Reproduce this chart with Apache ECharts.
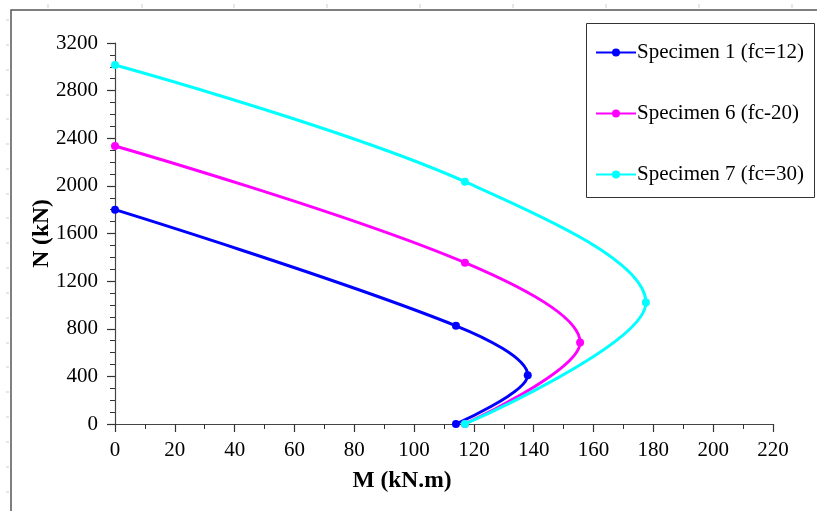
<!DOCTYPE html>
<html>
<head>
<meta charset="utf-8">
<script src="https://cdn.jsdelivr.net/npm/echarts@6/dist/echarts.min.js"></script>
<style>
html,body{margin:0;padding:0;background:#fff;}
#c{width:817px;height:511px;}
</style>
</head>
<body>
<div id="c"></div>
<script>
// Data (M in kN.m, N in kN)
const seriesNames = ['Specimen 1 (fc=12)', 'Specimen 6 (fc-20)', 'Specimen 7 (fc=30)'];
const spec1M = [0, 114, 138, 114];
const spec1N = [1800, 825, 410, 0];
const spec6M = [0, 117, 155.5, 117];
const spec6N = [2335, 1355, 685, 0];
const spec7M = [0, 117, 177.5, 117];
const spec7N = [3015, 2035, 1020, 0];
const xTicks = [0, 220, 20];
const yTicks = [0, 3200, 400];
const colors = ['#0000FF', '#FF00FF', '#00FFFF'];

const font = 'Liberation Serif';
function pairs(m, n) { return m.map((v, i) => [v, n[i]]); }
const allData = [pairs(spec1M, spec1N), pairs(spec6M, spec6N), pairs(spec7M, spec7N)];

const faint = [];
[20,45,70,95,119,144,169,194,218,243,268,293,318,343,367,392,417,442,467,492].forEach(y => {
  faint.push({type:'line', shape:{x1:6,y1:y,x2:9,y2:y}, style:{stroke:'#cfcfcf', lineWidth:1}, silent:true});
});
[48,142,234,327,420,513,606,699,792].forEach(x => {
  faint.push({type:'line', shape:{x1:x,y1:4,x2:x,y2:8}, style:{stroke:'#cfcfcf', lineWidth:1}, silent:true});
});

const chart = echarts.init(document.getElementById('c'), null, {renderer:'canvas'});
chart.setOption({
  backgroundColor: '#ffffff',
  animation: false,
  color: colors,
  textStyle: { fontFamily: font },
  grid: { left: 115, top: 43, right: 44, bottom: 87, containLabel: false },
  graphic: faint.concat([
    { type:'rect', shape:{x:11, y:10, width:900, height:600}, style:{fill:null, stroke:'#555', lineWidth:1.5}, silent:true, z:-1 },
    { type:'rect', shape:{x:586.5, y:23.5, width:228, height:174}, style:{fill:'#fff', stroke:'#333', lineWidth:1}, silent:true, z:1 }
  ]),
  legend: {
    orient: 'vertical',
    left: 595,
    top: 42,
    padding: 0,
    itemGap: 40,
    itemWidth: 40,
    itemHeight: 10,
    z: 5,
    data: seriesNames,
    textStyle: { fontFamily: font, fontSize: 21, color: '#000', lineHeight: 20, padding: [0,0,0,-4] }
  },
  xAxis: {
    type: 'value',
    min: xTicks[0], max: xTicks[1], interval: xTicks[2],
    name: 'M (kN.m)',
    nameLocation: 'middle',
    nameGap: 45,
    nameMoveOverlap: false,
    nameTextStyle: { fontFamily: font, fontSize: 23.5, fontWeight: 'bold', color: '#000', padding: [0, 84, 0, 0] },
    axisLine: { onZero: false, lineStyle: { color: '#444', width: 1.2 } },
    axisTick: { show: true, inside: false, length: 8, lineStyle: { color: '#333', width: 1.2 } },
    minorTick: { show: true, splitNumber: 2, length: 5, lineStyle: { color: '#333', width: 1 } },
    splitLine: { show: false },
    axisLabel: { margin: 16, fontFamily: font, fontSize: 21, color: '#000' }
  },
  yAxis: {
    type: 'value',
    min: yTicks[0], max: yTicks[1], interval: yTicks[2],
    name: 'N (kN)',
    nameLocation: 'middle',
    nameGap: 61,
    nameMoveOverlap: false,
    nameRotate: 90,
    nameTextStyle: { fontFamily: font, fontSize: 23.5, fontWeight: 'bold', color: '#000' },
    axisLine: { show: true, onZero: false, lineStyle: { color: '#444', width: 1.2 } },
    axisTick: { show: true, inside: false, length: 8, lineStyle: { color: '#333', width: 1.2 } },
    minorTick: { show: true, splitNumber: 4, length: 5, lineStyle: { color: '#333', width: 1 } },
    splitLine: { show: false },
    axisLabel: { margin: 17, fontFamily: font, fontSize: 21, color: '#000', formatter: v => String(v) }
  },
  series: seriesNames.map((name, i) => ({
    name: name,
    type: 'line',
    data: allData[i],
    smooth: 0.35,
    symbol: 'circle',
    symbolSize: 8,
    showSymbol: true,
    clip: false,
    lineStyle: { width: 3, color: colors[i] },
    itemStyle: { color: colors[i] },
    z: 2 + i
  }))
});
</script>
</body>
</html>
